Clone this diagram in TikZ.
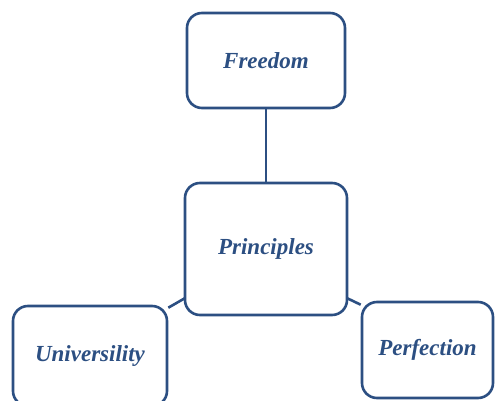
\documentclass[tikz,border=0pt]{standalone}
\usepackage{fontspec}
\setmainfont{Liberation Serif}
\definecolor{boxblue}{HTML}{2C4F82}
\begin{document}
\begin{tikzpicture}[x=1pt,y=-1pt,
  box/.style={draw=boxblue,line width=2.6pt,rounded corners=15pt,fill=white,
    inner sep=0pt,font=\fontsize{23}{26}\selectfont\bfseries\itshape,text=boxblue},
  link/.style={draw=boxblue,line width=2.6pt}]
\useasboundingbox (0,0) rectangle (495,401);
\node[box,minimum width=158pt,minimum height=95pt] (free) at (266,60.5) {Freedom};
\node[box,minimum width=162pt,minimum height=132pt] (prin) at (266,249) {Principles};
\node[box,minimum width=154pt,minimum height=100pt] (univ) at (90,356) {Universility};
\node[box,minimum width=131pt,minimum height=96pt] (perf) at (427.5,350) {Perfection};
\draw[link] (free.south) -- (prin.north);
\draw[link] ([shift={(0,3)}]univ.north east) -- ([shift={(1,-18)}]prin.south west);
\draw[link] ([shift={(-1,-18)}]prin.south east) -- ([shift={(0,4)}]perf.north west);
\end{tikzpicture}
\end{document}
